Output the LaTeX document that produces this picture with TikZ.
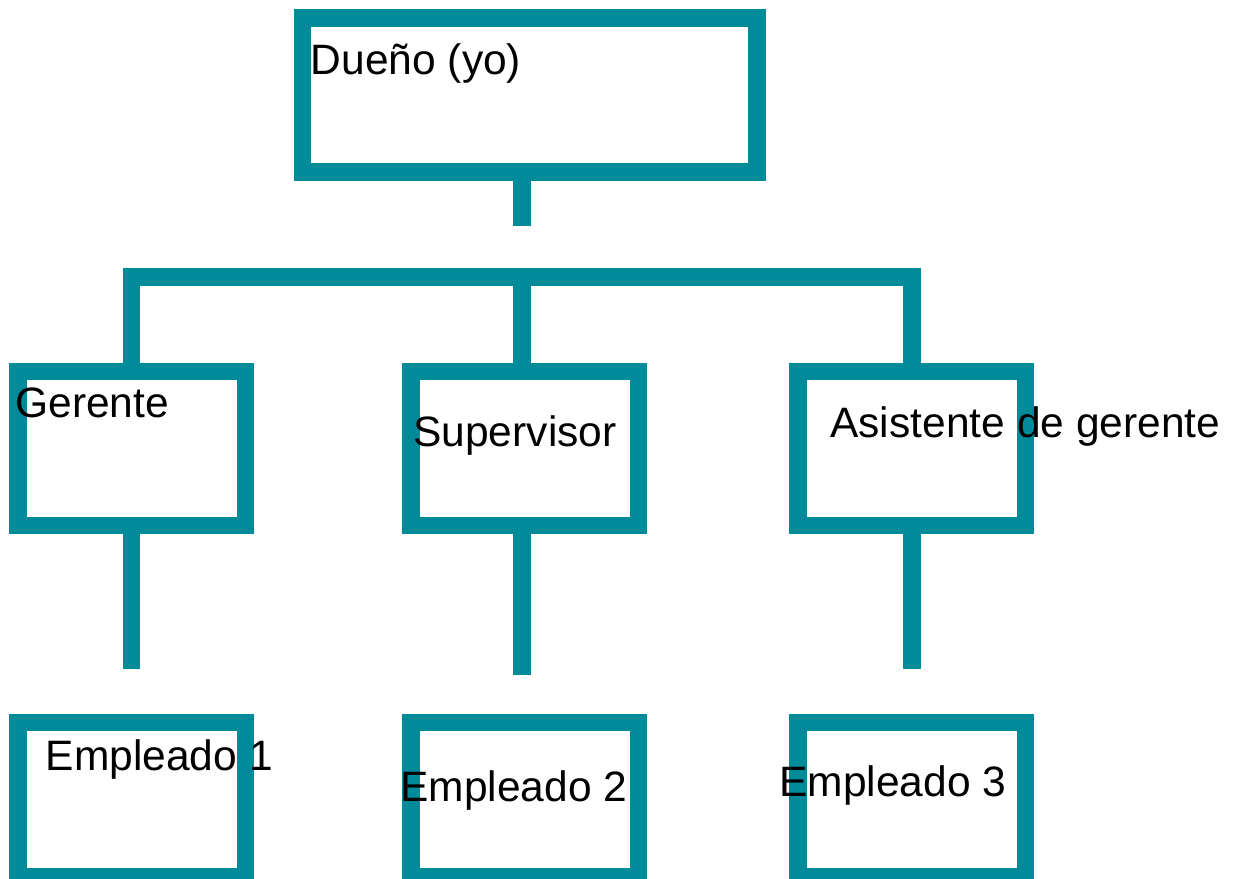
\documentclass[tikz,border=0pt]{standalone}
\usepackage{fontspec}
\setmainfont{Liberation Sans}
\definecolor{orgteal}{RGB}{0,139,154}
\tikzset{
  puesto/.style={draw=orgteal, line width=0.35cm, minimum width=4.55cm, minimum height=3.08cm, inner sep=0pt},
  enlace/.style={draw=orgteal, line width=0.35cm},
  rotulo/.style={anchor=base west, inner sep=0pt, font=\fontsize{24.2}{28}\selectfont}
}
\begin{document}
\begin{tikzpicture}[x=0.02cm,y=-0.02cm]
  \useasboundingbox (0,0) rectangle (1235,879);
  \node[puesto, minimum width=9.09cm] (dueno) at (529.75,95) {};
  \node[puesto] (gerente) at (131.75,448.5) {};
  \node[puesto] (supervisor) at (524.85,448.5) {};
  \node[puesto] (asistente) at (911.65,448.5) {};
  \node[puesto] (empleado1) at (131.75,799.5) {};
  \node[puesto] (empleado2) at (524.85,799.5) {};
  \node[puesto] (empleado3) at (911.65,799.5) {};
  \coordinate (tope) at (522,225.7);
  \coordinate (barra) at (522,277);
  \coordinate (fin1) at (131.7,669.3);
  \coordinate (fin2) at (522,675);
  \coordinate (fin3) at (912,669.3);
  \draw[enlace] (dueno.south -| tope) -- (tope);
  \draw[enlace] (gerente.north -| fin1) |- (barra) -| (asistente.north -| fin3);
  \draw[enlace] (barra) -- (supervisor.north -| barra);
  \draw[enlace] (gerente.south -| fin1) -- (fin1);
  \draw[enlace] (supervisor.south -| fin2) -- (fin2);
  \draw[enlace] (asistente.south -| fin3) -- (fin3);
  \node[rotulo] (tdueno) at (310.5,74) {Dueño (yo)};
  \node[rotulo] (tgerente) at (15,417.7) {Gerente};
  \node[rotulo] (tsupervisor) at (413,446.7) {Supervisor};
  \node[rotulo] (tasistente) at (830,437.3) {Asistente de gerente};
  \node[rotulo] (templeado1) at (45.5,770) {Empleado 1};
  \node[rotulo] (templeado2) at (400,801.7) {Empleado 2};
  \node[rotulo] (templeado3) at (779,796.7) {Empleado 3};
\end{tikzpicture}
\end{document}
